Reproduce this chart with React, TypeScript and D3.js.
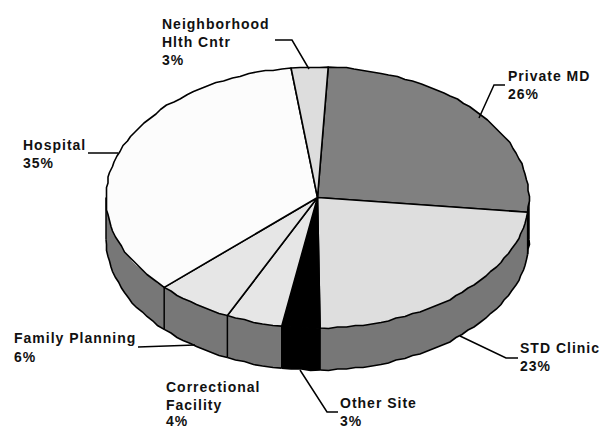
import React from "react";
import * as d3 from "d3";

const categories = ["Private MD", "STD Clinic", "Other Site", "Correctional Facility", "Family Planning", "Hospital", "Neighborhood Hlth Cntr"];
const values = [26, 23, 2.9, 4.3, 5.9, 35.1, 2.8];
const topColors = ["#808080", "#dedede", "#000000", "#e6e6e6", "#e6e6e6", "#fcfcfc", "#dddddd"];
const wallColors = ["#000000", "#777777", "#000000", "#777777", "#777777", "#777777", "#777777"];
const labelLines = [
  { x: 508, y: [81, 99], t: ["Private MD", "26%"] },
  { x: 520, y: [353, 371], t: ["STD Clinic", "23%"] },
  { x: 340, y: [408, 426], t: ["Other Site", "3%"] },
  { x: 166, y: [392, 410, 426], t: ["Correctional", "Facility", "4%"] },
  { x: 14, y: [343, 362], t: ["Family Planning", "6%"] },
  { x: 23, y: [150, 168], t: ["Hospital", "35%"] },
  { x: 162, y: [29, 47, 65], t: ["Neighborhood", "Hlth Cntr", "3%"] },
];
const leaders = [
  [[505, 85], [494, 85], [479, 118]],
  [[518, 358], [506, 358], [460, 336]],
  [[338, 412], [327, 412], [300, 370]],
  [[138, 347], [195, 345]],
  [[88, 153], [118, 153]],
  [[275, 40], [292, 40], [309, 69]],
];

const W = 607, H = 429;
const cx = 317.5, cy = 197.5, rx = 211.5, ry = 130.5, depth = 42;
const x = d3.scaleLinear().domain([-1, 1]).range([cx - rx, cx + rx]);
const y = d3.scaleLinear().domain([-1, 1]).range([cy - ry, cy + ry]);
const startAngle = (2.9 * Math.PI) / 180;
const pieGen = d3.pie<number>().sort(null).startAngle(startAngle).endAngle(startAngle + 2 * Math.PI);
const slices = pieGen(values);

const STEP = (2.4 * Math.PI) / 180;
const snap = (v: number) => Math.round(v / 1.5) * 1.5;
function rim(a0: number, a1: number, dy = 0, jag = true): [number, number][] {
  const n = Math.max(1, Math.round((a1 - a0) / STEP));
  return d3.range(n + 1).map((i) => {
    const a = a0 + ((a1 - a0) * i) / n;
    const px = x(Math.sin(a)), py = y(-Math.cos(a)) + dy;
    return jag && i > 0 && i < n ? [snap(px), snap(py)] : [px, py];
  });
}
const line = d3.line();
const PI = Math.PI;

export default function App() {
  const walls: { a0: number; a1: number; i: number }[] = [];
  slices.forEach((s, i) => {
    const lo = Math.max(s.startAngle, PI / 2), hi = Math.min(s.endAngle, (3 * PI) / 2);
    if (hi > lo) walls.push({ a0: lo, a1: hi, i });
  });
  return (
    <svg width={W} height={H} style={{ position: "absolute", left: 0, top: 0, background: "#fff" }}>
      {walls.map((w) => {
        const top = rim(w.a0, w.a1, 0);
        const bot = rim(w.a0, w.a1, depth).reverse();
        return <path key={w.i} d={line([...top, ...bot])! + "Z"} fill={wallColors[w.i]} stroke="none" />;
      })}
      {walls.slice(1).map((w) => (
        <path key={"e" + w.i} d={line([[x(Math.sin(w.a0)), y(-Math.cos(w.a0))], [x(Math.sin(w.a0)), y(-Math.cos(w.a0)) + depth]])!} stroke="#000" strokeWidth={1.5} />
      ))}
      {walls.map((w) => (
        <path key={"b" + w.i} d={line(rim(w.a0, w.a1, depth))!} fill="none" stroke="#000" strokeWidth={1.6} />
      ))}
      <path d={line([[x(1), cy], [x(1), cy + depth]])!} stroke="#000" strokeWidth={1.5} />
      <path d={line([[x(-1), cy], [x(-1), cy + depth]])!} stroke="#000" strokeWidth={1.5} />
      {slices.map((s, i) => (
        <path
          key={i}
          d={line([[cx, cy], ...rim(s.startAngle, s.endAngle)])! + "Z"}
          fill={topColors[i]}
          stroke="#000"
          strokeWidth={1.6}
          strokeLinejoin="round"
        />
      ))}
      {leaders.map((l, i) => (
        <path key={i} d={line(l as [number, number][])!} fill="none" stroke="#000" strokeWidth={1.5} />
      ))}
      <g fontFamily="Liberation Sans" fontWeight="bold" fontSize={14} letterSpacing={1} fill="#111">
        {labelLines.map((lab, i) =>
          lab.t.map((t, j) => (
            <text key={i + "-" + j} x={lab.x} y={lab.y[j]}>{t}</text>
          ))
        )}
      </g>
    </svg>
  );
}
